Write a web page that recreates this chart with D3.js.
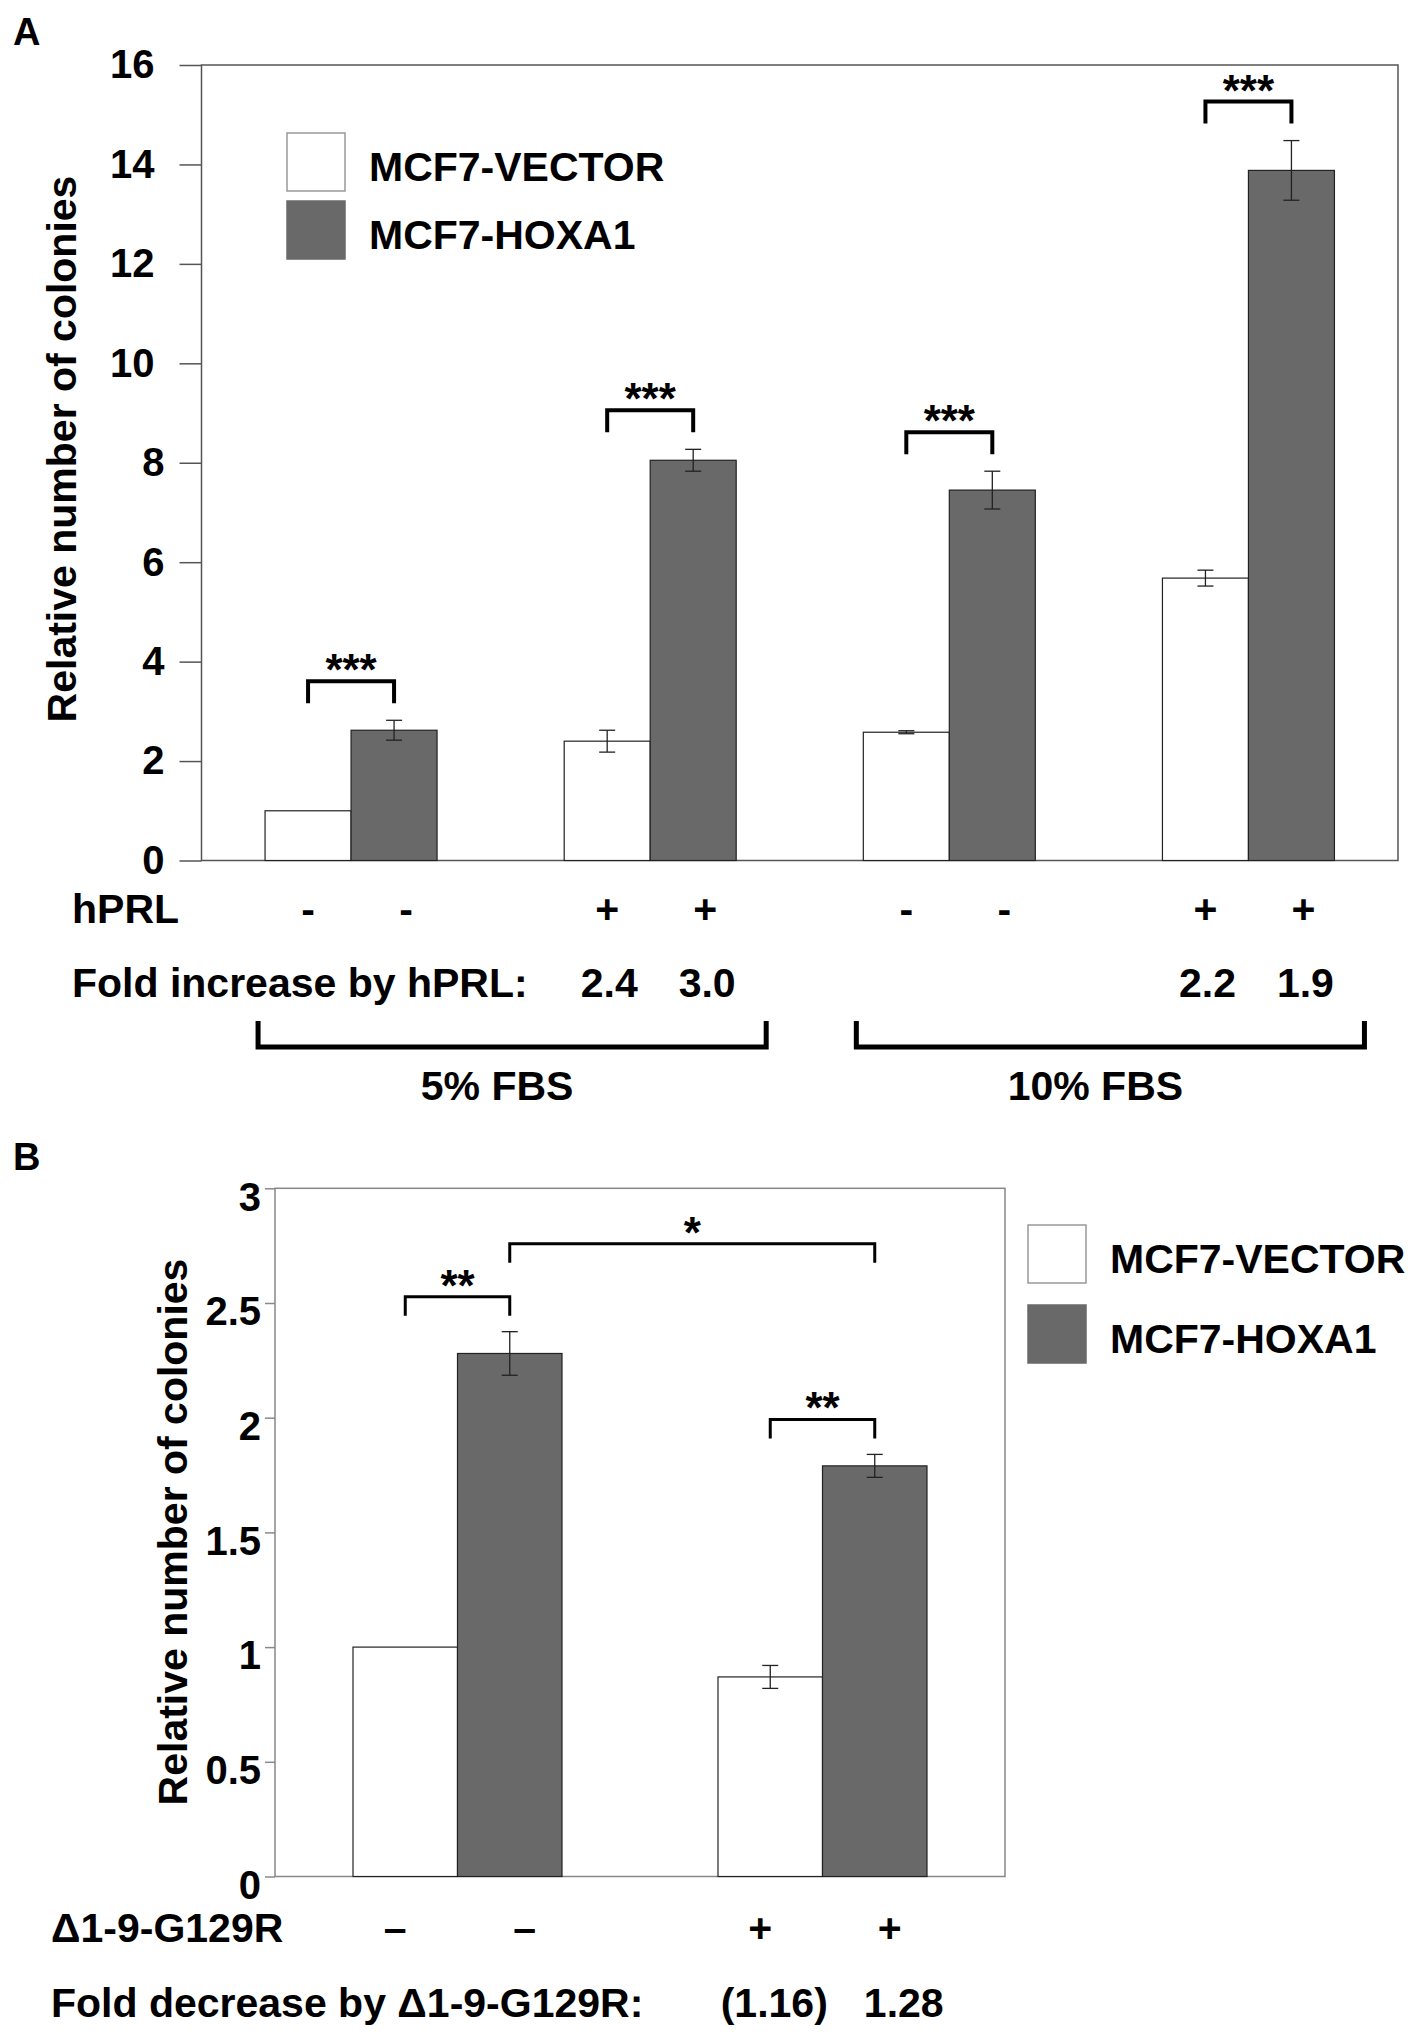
<!DOCTYPE html>
<html>
<head>
<meta charset="utf-8">
<script src="https://cdn.jsdelivr.net/npm/d3@7"></script>
<style>
  body { margin: 0; background: #fff; }
  svg { display: block; font-family: Arial, "Liberation Sans", sans-serif; font-weight: bold; }
</style>
</head>
<body>
<svg id="fig" width="1417" height="2039"></svg>
<script>
// ---- data, panel A ----
const seriesNames = ["MCF7-VECTOR", "MCF7-HOXA1"];
const groupsA = ["5% FBS, no hPRL", "5% FBS, hPRL", "10% FBS, no hPRL", "10% FBS, hPRL"];
const vectorA = [1.0, 2.4, 2.58, 5.68];
const vectorErrA = [0, 0.22, 0.03, 0.16];
const hoxa1A = [2.62, 8.05, 7.45, 13.88];
const hoxa1ErrA = [0.2, 0.22, 0.38, 0.6];
const hprlA = ["-", "-", "+", "+", "-", "-", "+", "+"];
const foldA = ["", "", "2.4", "3.0", "", "", "2.2", "1.9"];
const sigA = [
  { from: 0, to: 1, text: "***" },
  { from: 2, to: 3, text: "***" },
  { from: 4, to: 5, text: "***" },
  { from: 6, to: 7, text: "***" }
];
const serumA = [
  { label: "5% FBS", first: 0, last: 1 },
  { label: "10% FBS", first: 2, last: 3 }
];
const ticksA = [0, 2, 4, 6, 8, 10, 12, 14, 16];

// ---- data, panel B ----
const groupsB = ["no mutant", "\u03941-9-G129R"];
const vectorB = [1.0, 0.87];
const vectorErrB = [0, 0.05];
const hoxa1B = [2.28, 1.79];
const hoxa1ErrB = [0.095, 0.05];
const mutB = ["\u2013", "\u2013", "+", "+"];
const foldB = ["", "", "(1.16)", "1.28"];
const sigB = [
  { from: 0, to: 1, text: "**" },
  { from: 2, to: 3, text: "**" },
  { from: 1, to: 3, text: "*" }
];
const ticksB = [0, 0.5, 1, 1.5, 2, 2.5, 3];

const colors = ["#ffffff", "#696969"];
const svg = d3.select("#fig");

function drawPanel(o) {
  const g = svg.append("g");
  const x = d3.scaleBand().domain(o.groups).range([o.left, o.right])
    .paddingInner(o.pad).paddingOuter(o.pad / 2);
  const xs = d3.scaleBand().domain([0, 1]).range([0, x.bandwidth()]);
  const y = d3.scaleLinear().domain([0, d3.max(o.ticks)]).range([o.bottom, o.top]);

  const bars = [];
  o.groups.forEach((grp, i) => {
    [[o.vec, o.vecErr], [o.hox, o.hoxErr]].forEach(([v, e], s) => {
      bars.push({ grp, s, v: v[i], e: e[i], x0: x(grp) + xs(s), cx: x(grp) + xs(s) + xs.bandwidth() / 2 });
    });
  });

  // frame
  g.append("rect").attr("x", o.left).attr("y", o.top)
    .attr("width", o.right - o.left).attr("height", o.bottom - o.top)
    .attr("fill", "none").attr("stroke", o.frame).attr("stroke-width", 1.5);

  // y axis ticks
  const ax = g.append("g").attr("transform", `translate(${o.left},0)`)
    .call(d3.axisLeft(y).tickValues(o.ticks).tickSize(o.tickSize).tickPadding(o.tickPad).tickFormat(d => String(d)));
  ax.select(".domain").remove();
  ax.selectAll(".tick line").attr("stroke", o.frame).attr("stroke-width", 1.5);
  ax.selectAll(".tick text").attr("font-size", 40).attr("font-family", null).attr("fill", "#000")
    .attr("dx", d => (o.shiftWide && String(d).length > 1) ? -10 : 0)
    .attr("y", o.labelDy || 0);

  // bars
  g.selectAll("rect.bar").data(bars).join("rect").attr("class", "bar")
    .attr("x", d => d.x0).attr("width", xs.bandwidth())
    .attr("y", d => y(d.v)).attr("height", d => y(0) - y(d.v))
    .attr("fill", d => colors[d.s]).attr("stroke", "#222").attr("stroke-width", 1.2);

  // error bars
  const eb = g.selectAll("g.err").data(bars.filter(d => d.e > 0)).join("g").attr("class", "err")
    .attr("stroke", "#222").attr("stroke-width", 1.3);
  eb.append("line").attr("x1", d => d.cx).attr("x2", d => d.cx).attr("y1", d => y(d.v + d.e)).attr("y2", d => y(d.v - d.e));
  eb.append("line").attr("x1", d => d.cx - 8).attr("x2", d => d.cx + 8).attr("y1", d => y(d.v + d.e)).attr("y2", d => y(d.v + d.e));
  eb.append("line").attr("x1", d => d.cx - 8).attr("x2", d => d.cx + 8).attr("y1", d => y(d.v - d.e)).attr("y2", d => y(d.v - d.e));

  // significance brackets; a bracket that overlaps an earlier one is stacked above it
  const placed = [];
  o.sig.forEach(sg => {
    const under = placed.filter(p => p.to >= sg.from && p.from <= sg.to);
    let by;
    if (under.length) by = d3.min(under, p => p.by) - o.stack;
    else by = d3.min(bars.slice(sg.from, sg.to + 1), b => y(b.v + b.e)) - o.gap;
    const x1 = bars[sg.from].cx, x2 = bars[sg.to].cx;
    placed.push({ ...sg, by });
    g.append("path").attr("d", `M${x1},${by + o.leg}V${by}H${x2}V${by + o.leg}`)
      .attr("fill", "none").attr("stroke", "#000").attr("stroke-width", o.sigStroke);
    g.append("text").attr("x", (x1 + x2) / 2).attr("y", by + 4).attr("text-anchor", "middle")
      .attr("font-size", 44).text(sg.text);
  });

  // legend
  const lg = g.append("g").attr("transform", `translate(${o.legX},${o.legY})`);
  seriesNames.forEach((name, i) => {
    lg.append("rect").attr("x", 0).attr("y", i * o.legStep).attr("width", 58).attr("height", 58)
      .attr("fill", colors[i]).attr("stroke", i === 0 ? "#999" : colors[i]).attr("stroke-width", 1.5);
    lg.append("text").attr("x", 82).attr("y", i * o.legStep + 48).attr("font-size", 41).text(name);
  });

  // y label
  g.append("text").attr("transform", `translate(${o.ylabX},${(o.ylabY)}) rotate(-90)`)
    .attr("text-anchor", "middle").attr("font-size", 41).text("Relative number of colonies");

  // panel letter
  svg.append("text").attr("x", 13).attr("y", o.letterY).attr("font-size", 38).text(o.letter);

  // rows under the chart
  const markX = (b) => b.cx + o.markShift[b.s];
  g.append("text").attr("x", o.rowLabelX).attr("y", o.row1Y).attr("font-size", 41).text(o.row1Label);
  g.selectAll("text.mark").data(bars).join("text").attr("class", "mark")
    .attr("x", d => markX(d)).attr("y", o.row1Y).attr("text-anchor", "middle")
    .attr("font-size", 41).text((d, i) => o.marks[i]);
  g.append("text").attr("x", o.rowLabelX).attr("y", o.row2Y).attr("font-size", 41).text(o.row2Label);
  g.selectAll("text.fold").data(bars).join("text").attr("class", "fold")
    .attr("x", d => markX(d) + o.foldShift).attr("y", o.row2Y).attr("text-anchor", "middle")
    .attr("font-size", 41).text((d, i) => o.fold[i]);

  return { g, x };
}

// Panel A
const pa = drawPanel({
  groups: groupsA, vec: vectorA, vecErr: vectorErrA, hox: hoxa1A, hoxErr: hoxa1ErrA,
  left: 201.5, right: 1398, top: 65, bottom: 860.5, pad: 0.425, ticks: ticksA,
  tickSize: 22, tickPad: 15, shiftWide: true, frame: "#555",
  sig: sigA, gap: 39, stack: 53, leg: 22, sigStroke: 4,
  legX: 287, legY: 133, legStep: 68,
  ylabX: 76, ylabY: 449, letter: "A", letterY: 45,
  rowLabelX: 72, row1Label: "hPRL", row1Y: 923, marks: hprlA,
  row2Label: "Fold increase by hPRL:", row2Y: 997, fold: foldA,
  markShift: [0, 12], foldShift: 2
});

// serum brackets under panel A
serumA.forEach(s => {
  const x1 = pa.x(groupsA[s.first]) - 7;
  const x2 = pa.x(groupsA[s.last]) + pa.x.bandwidth() + 30;
  pa.g.append("path").attr("d", `M${x1},1021V1047H${x2}V1021`)
    .attr("fill", "none").attr("stroke", "#000").attr("stroke-width", 5);
  pa.g.append("text").attr("x", (x1 + x2) / 2 - 15).attr("y", 1100).attr("text-anchor", "middle")
    .attr("font-size", 41).text(s.label);
});

// Panel B
drawPanel({
  groups: groupsB, vec: vectorB, vecErr: vectorErrB, hox: hoxa1B, hoxErr: hoxa1ErrB,
  left: 275, right: 1005, top: 1188.3, bottom: 1876.5, pad: 0.4274, ticks: ticksB,
  tickSize: 10, tickPad: 4, shiftWide: false, labelDy: 9, frame: "#888",
  sig: sigB, gap: 35, stack: 53, leg: 19, sigStroke: 3,
  legX: 1028, legY: 1225, legStep: 80,
  ylabX: 187, ylabY: 1532, letter: "B", letterY: 1170,
  rowLabelX: 51, row1Label: "\u03941-9-G129R", row1Y: 1942, marks: mutB,
  row2Label: "Fold decrease by \u03941-9-G129R:", row2Y: 2017, fold: foldB,
  markShift: [-10, 15], foldShift: 14
});
</script>
</body>
</html>
